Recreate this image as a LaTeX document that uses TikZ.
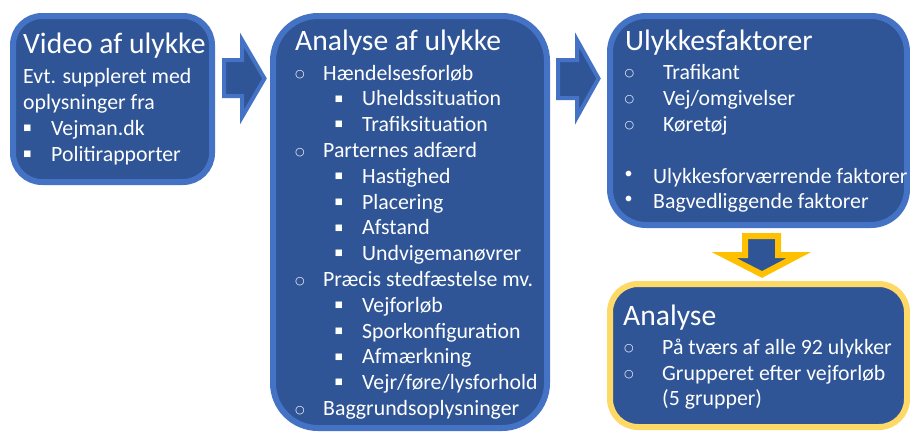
\documentclass[tikz,border=0pt]{standalone}
\usepackage{fontspec}
\setmainfont{Carlito}
\newfontfamily\dvs{DejaVu Sans}
\definecolor{fillblue}{HTML}{2F5597}
\definecolor{edgeblue}{HTML}{4472C4}
\definecolor{edgegold}{HTML}{FFD966}
\definecolor{arrgold}{HTML}{FFC000}
\tikzset{
  panel/.style={rectangle, draw=edgeblue, fill=fillblue, line width=6pt, inner sep=0pt},
  ttl/.style={anchor=base west, inner sep=0pt, text=white, font=\fontsize{29.6}{29.6}\selectfont},
  txt/.style={anchor=base west, inner sep=0pt, text=white, font=\fontsize{21.8}{21.8}\selectfont},
  circb/.style={anchor=center, inner sep=0pt, text=white, font=\dvs\fontsize{11}{11}\selectfont},
  sqb/.style={anchor=center, inner sep=0pt, text=white, font=\dvs\fontsize{8.5}{8.5}\selectfont},
  dotb/.style={anchor=center, inner sep=0pt, text=white, font=\fontsize{16}{16}\selectfont},
  bluearrow/.style={draw=edgeblue, fill=fillblue, line width=4pt, line join=miter},
  goldarrow/.style={draw=arrgold, fill=fillblue, line width=6pt, line join=miter}
}
\begin{document}
\begin{tikzpicture}[x=1pt,y=-1pt]
\useasboundingbox (0,0) rectangle (910,432);

% panels
\node[panel, rounded corners=29pt, minimum width=199pt, minimum height=166pt] (b1) at (112.5,99) {};
\node[panel, rounded corners=45pt, minimum width=274pt, minimum height=412pt] (b2) at (410,222) {};
\node[panel, rounded corners=36pt, minimum width=297pt, minimum height=209pt] (b3) at (758.5,120.5) {};
\node[panel, draw=edgegold, rounded corners=28pt, minimum width=297pt, minimum height=143pt] (b4) at (758.5,355.5) {};

% block arrows
\draw[bluearrow] (224,60) -- (242,60) -- (242,40) -- (264.5,78.5) -- (242,117) -- (242,96) -- (224,96) -- cycle;
\draw[bluearrow] (558,60) -- (577,60) -- (577,40) -- (598.5,78.5) -- (577,117) -- (577,98) -- (558,98) -- cycle;
\draw[goldarrow] (745,236) -- (778,236) -- (778,255) -- (799,255) -- (762,274.5) -- (724,255) -- (745,255) -- cycle;

% box 1 text
\node[ttl] (t1) at (23,53) {Video af ulykke};
\node[txt] (t1a) at (23,83) {Evt. suppleret med};
\node[txt] (t1b) at (23,109) {oplysninger fra};
\node[sqb] (s1c) at (27.5,128) {■};
\node[txt] (t1c) at (51,135) {Vejman.dk};
\node[sqb] (s1d) at (27.5,154) {■};
\node[txt] (t1d) at (51,161) {Politirapporter};

% box 2 text
\node[ttl] (t2) at (295,50) {Analyse af ulykke};
\node[circb] (c2a) at (300,75) {○};
\node[txt] (t2a) at (323,80) {Hændelsesforløb};
\node[sqb] (s2b) at (339,98.8) {■};
\node[txt] (t2b) at (362,105.8) {Uheldssituation};
\node[sqb] (s2c) at (339,124.6) {■};
\node[txt] (t2c) at (362,131.6) {Trafiksituation};
\node[circb] (c2d) at (300,152.4) {○};
\node[txt] (t2d) at (323,157.4) {Parternes adfærd};
\node[sqb] (s2e) at (339,176.2) {■};
\node[txt] (t2e) at (362,183.2) {Hastighed};
\node[sqb] (s2f) at (339,202) {■};
\node[txt] (t2f) at (362,209) {Placering};
\node[sqb] (s2g) at (339,227.8) {■};
\node[txt] (t2g) at (362,234.8) {Afstand};
\node[sqb] (s2h) at (339,253.6) {■};
\node[txt] (t2h) at (362,260.6) {Undvigemanøvrer};
\node[circb] (c2i) at (300,281.4) {○};
\node[txt] (t2i) at (323,286.4) {Præcis stedfæstelse mv.};
\node[sqb] (s2j) at (339,305.2) {■};
\node[txt] (t2j) at (362,312.2) {Vejforløb};
\node[sqb] (s2k) at (339,331) {■};
\node[txt] (t2k) at (362,338) {Sporkonfiguration};
\node[sqb] (s2l) at (339,356.8) {■};
\node[txt] (t2l) at (362,363.8) {Afmærkning};
\node[sqb] (s2m) at (339,382.6) {■};
\node[txt] (t2m) at (362,389.6) {Vejr/føre/lysforhold};
\node[circb] (c2n) at (300,410.4) {○};
\node[txt] (t2n) at (323,415.4) {Baggrundsoplysninger};

% box 3 text
\node[ttl] (t3) at (625,50) {Ulykkesfaktorer};
\node[circb] (c3a) at (629.5,74) {○};
\node[txt] (t3a) at (663,79) {Trafikant};
\node[circb] (c3b) at (629.5,100) {○};
\node[txt] (t3b) at (663,105) {Vej/omgivelser};
\node[circb] (c3c) at (629.5,126) {○};
\node[txt] (t3c) at (663,131) {Køretøj};
\node[dotb] (d3d) at (628.5,175) {•};
\node[txt] (t3d) at (653,183) {Ulykkesforværrende faktorer};
\node[dotb] (d3e) at (628.5,200) {•};
\node[txt] (t3e) at (653,208) {Bagvedliggende faktorer};

% box 4 text
\node[ttl] (t4) at (623,325) {Analyse};
\node[circb] (c4a) at (629,349) {○};
\node[txt] (t4a) at (662,354) {På tværs af alle 92 ulykker};
\node[circb] (c4b) at (629,375) {○};
\node[txt] (t4b) at (662,380) {Grupperet efter vejforløb};
\node[txt] (t4c) at (662,405) {(5 grupper)};
\end{tikzpicture}
\end{document}
